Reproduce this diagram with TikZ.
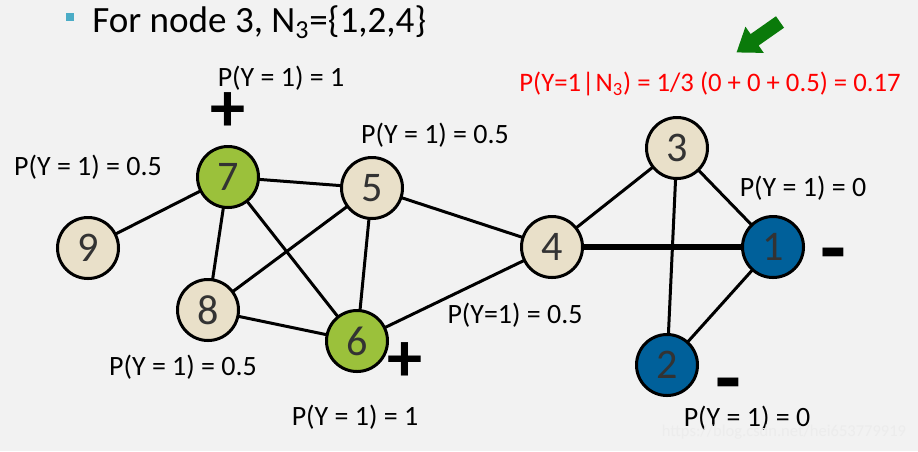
\documentclass[tikz,border=0pt]{standalone}
\usepackage{fontspec}
\setmainfont{Carlito}
\definecolor{bgcol}{HTML}{F2F2F2}
\definecolor{beigecol}{HTML}{E9E0C9}
\definecolor{greencol}{HTML}{9BC13B}
\definecolor{bluecol}{HTML}{00609A}
\definecolor{bulletcol}{HTML}{4BACC6}
\definecolor{arrowcol}{HTML}{0A7A0A}
\tikzset{
  vertex/.style={circle,draw=black,line width=0.06cm,minimum size=1.22cm,inner sep=0pt,
    text=black!80,font=\fontsize{24}{24}\selectfont},
  plainnode/.style={vertex,fill=beigecol},
  posnode/.style={vertex,fill=greencol},
  negnode/.style={vertex,fill=bluecol},
  edge/.style={line width=0.06cm},
  prob/.style={inner sep=0pt,font=\fontsize{15.9}{18}\selectfont},
  sign/.style={inner sep=0pt,font=\fontsize{40}{40}\selectfont\bfseries},
  minussign/.style={inner sep=0pt,font=\fontsize{48}{48}\selectfont\bfseries}
}
\begin{document}
\begin{tikzpicture}
  \useasboundingbox[fill=bgcol] (0,0) rectangle (18.36,-9.02);
  {
  % Heading line
  \fill[bulletcol] (1.32,-0.26) rectangle (1.48,-0.42);%
  \node[anchor=west,inner sep=0pt,font=\fontsize{21.1}{24}\selectfont] (title) at (1.84,-0.44)
    {For node 3, N\textsubscript{3}=\{1,2,4\}};%

  % Drawing the edges
  \coordinate (c7) at (4.56,-3.54);%
  \coordinate (c5) at (7.44,-3.76);%
  \coordinate (c9) at (1.76,-4.96);%
  \coordinate (c8) at (4.16,-6.20);%
  \coordinate (c6) at (7.14,-6.82);%
  \coordinate (c4) at (11.04,-4.94);%
  \coordinate (c3) at (13.54,-2.96);%
  \coordinate (c1) at (15.46,-4.94);%
  \coordinate (c2) at (13.34,-7.30);%
  \draw[edge] (c9) -- (c7);%
  \draw[edge] (c7) -- (c5);%
  \draw[edge] (c7) -- (c8);%
  \draw[edge] (c7) -- (c6);%
  \draw[edge] (c5) -- (c8);%
  \draw[edge] (c5) -- (c6);%
  \draw[edge] (c5) -- (c4);%
  \draw[edge] (c8) -- (c6);%
  \draw[edge] (c6) -- (c4);%
  \draw[edge] (c4) -- (c3);%
  \draw[line width=0.12cm] (c4) -- (c1);%
  \draw[edge] (c3) -- (c1);%
  \draw[edge] (c3) -- (c2);%
  \draw[edge] (c1) -- (c2);%

  % Marking the nodes
  \node[posnode]   (n7) at (c7) {7};%
  \node[plainnode] (n5) at (c5) {5};%
  \node[plainnode] (n9) at (c9) {9};%
  \node[plainnode] (n8) at (c8) {8};%
  \node[posnode]   (n6) at (c6) {6};%
  \node[plainnode] (n4) at (c4) {4};%
  \node[plainnode] (n3) at (c3) {3};%
  \node[negnode]   (n1) at (c1) {1};%
  \node[negnode]   (n2) at (c2) {2};%

  % Probability labels
  \node[prob] (p7) at (5.62,-1.56) {P(Y = 1) = 1};%
  \node[prob] (p9) at (1.76,-3.34) {P(Y = 1) = 0.5};%
  \node[prob] (p5) at (8.70,-2.70) {P(Y = 1) = 0.5};%
  \node[prob] (p8) at (3.66,-7.34) {P(Y = 1) = 0.5};%
  \node[prob] (p6) at (7.10,-8.34) {P(Y = 1) = 1};%
  \node[prob] (p4) at (10.30,-6.30) {P(Y=1) = 0.5};%
  \node[prob] (p1) at (16.06,-3.76) {P(Y = 1) = 0};%
  \node[prob] (p2) at (14.94,-8.36) {P(Y = 1) = 0};%

  % Signs of the labelled nodes
  \node[sign] (s7) at (4.56,-2.24) {+};%
  \node[sign] (s6) at (8.10,-7.24) {+};%
  \node[minussign] (s1) at (16.66,-5.24) {-};%
  \node[minussign] (s2) at (14.56,-7.84) {-};%

  % Result for node 3
  \node[prob,text=red,font=\fontsize{15.2}{18}\selectfont] (res) at (14.20,-1.68)
    {P(Y=1{\kern0.04em}|{\kern0.04em}N\textsubscript{3}) = 1/3 (0 + 0 + 0.5) = 0.17};%
  \fill[arrowcol,shift={(15.60,-0.44)},rotate=215]
    (0,-0.14) -- (0.62,-0.14) -- (0.62,-0.32) -- (1.06,0) -- (0.62,0.32) -- (0.62,0.14) -- (0,0.14) -- cycle;%

  % Watermark
  \node[inner sep=0pt,text=white!85!gray,font=\fontsize{9.4}{10}\selectfont] (wm) at (15.68,-8.64)
    {https://blog.csdn.net/hei653779919};%
  }
\end{tikzpicture}
\end{document}
